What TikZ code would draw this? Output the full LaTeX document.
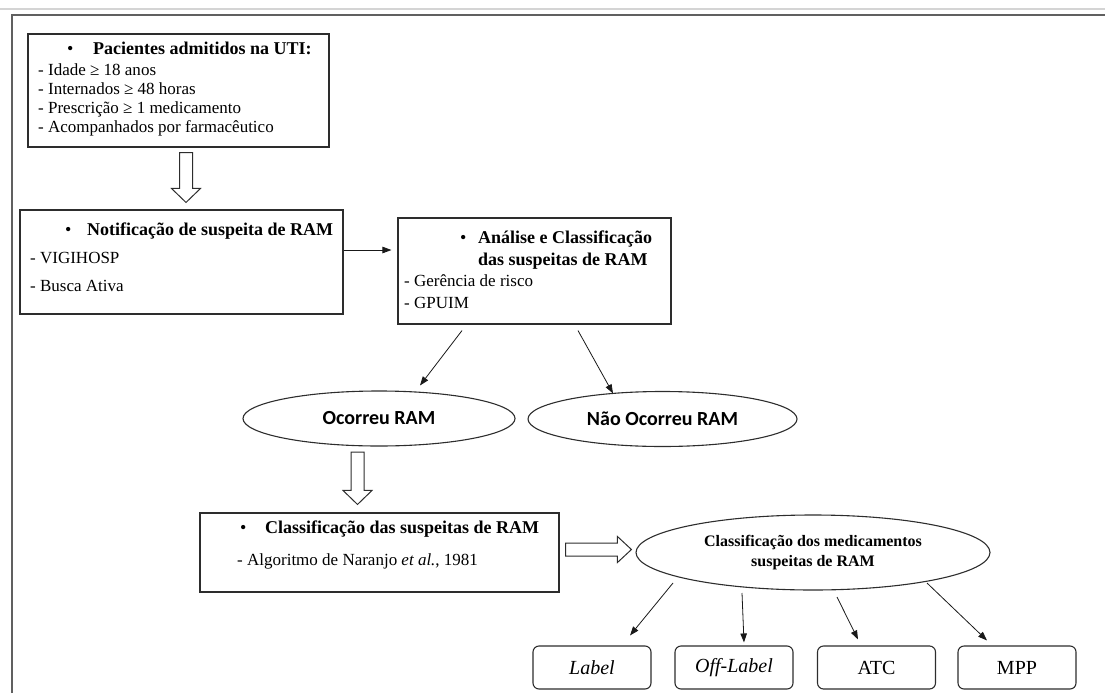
\documentclass[tikz,border=0pt]{standalone}
\usepackage{fontspec}
\setmainfont{Liberation Serif}
\newfontfamily\calibri{Carlito}
\usetikzlibrary{
    shapes.geometric,
    arrows.meta,
    calc
}
\definecolor{framegray}{RGB}{96, 96, 96}
\definecolor{rulegray}{RGB}{212, 212, 212}
\definecolor{edgegray}{RGB}{45, 45, 45}

% block arrows (hollow)
\newcommand{\hollowdown}[2]{%
    \draw[hollow] ($(#1)+(-6.5,0)$) -- ($(#1)+(6.5,0)$) -- ($(#2)+(6.5,-14)$)
        -- ($(#2)+(14.5,-14)$) -- (#2) -- ($(#2)+(-14.5,-14)$) -- ($(#2)+(-6.5,-14)$) -- cycle;}
\newcommand{\hollowright}[2]{%
    \draw[hollow] ($(#1)+(0,-6.5)$) -- ($(#2)+(-14,-6.5)$) -- ($(#2)+(-14,-13)$)
        -- (#2) -- ($(#2)+(-14,13)$) -- ($(#2)+(-14,6.5)$) -- ($(#1)+(0,6.5)$) -- cycle;}

\tikzset{
    box/.style={draw=edgegray, line width=1.1pt, rectangle, inner sep=0pt},
    oval/.style={draw=edgegray, line width=1.1pt, ellipse, inner sep=0pt},
    tagbox/.style={draw=edgegray, line width=1.1pt, rounded corners=6pt, minimum width=118pt,
        minimum height=43pt, inner sep=0pt, font=\fontsize{20}{24}\selectfont},
    txt/.style={anchor=base west, inner sep=0pt, font=\fontsize{17}{19}\selectfont},
    ttl/.style={txt, font=\fontsize{18}{20}\selectfont},
    arr/.style={draw=black!90, line width=0.8pt, -{Triangle[length=9pt,width=6.5pt]}},
    hollow/.style={draw=edgegray, line width=1pt, fill=white, line join=miter}
}

\begin{document}
\begin{tikzpicture}[x=1pt, y=-1pt]
    \useasboundingbox (0,0) rectangle (1105,693);

    % page frame
    \draw[rulegray, line width=1.5pt] (0,9) -- (1105,9);
    \draw[framegray, line width=2pt] (12,693) -- (12,15.5) -- (1105,15.5);

    % Pacientes admitidos
    \node[box, minimum width=301pt, minimum height=113pt] (pac) at (178.5,90.5) {};
    \node[ttl] (pac0) at (38,55) {\hspace*{29pt}\makebox[26pt][l]{\textbullet}\textbf{Pacientes admitidos na UTI:}};
    \node[txt] (pac1) at (38,75) {- Idade ≥ 18 anos};
    \node[txt] (pac2) at (38,94) {- Internados ≥ 48 horas};
    \node[txt] (pac3) at (38,113) {- Prescrição ≥ 1 medicamento};
    \node[txt] (pac4) at (38,132) {- Acompanhados por farmacêutico};

    % Notificacao
    \node[box, minimum width=323pt, minimum height=104pt] (notif) at (181.5,262) {};
    \node[ttl] (not0) at (30,235) {\hspace*{35pt}\makebox[22pt][l]{\textbullet}\textbf{Notificação de suspeita de RAM}};
    \node[txt] (not1) at (30,263) {- VIGIHOSP};
    \node[txt] (not2) at (30,291) {- Busca Ativa};

    % Analise
    \node[box, minimum width=273pt, minimum height=106pt] (anal) at (534.5,271) {};
    \node[ttl] (ana0) at (404,243) {\hspace*{56pt}\makebox[18pt][l]{\textbullet}\textbf{Análise e Classificação}};
    \node[ttl] (ana1) at (404,265) {\hspace*{74pt}\textbf{das suspeitas de RAM}};
    \node[txt] (ana2) at (404,286) {- Gerência de risco};
    \node[txt] (ana3) at (404,308) {- GPUIM};

    % Ocorreu / Nao ocorreu
    \node[oval, minimum width=272pt, minimum height=55pt, font=\calibri\bfseries\fontsize{20}{24}\selectfont] (ocor) at (379,418.5) {Ocorreu RAM};
    \node[oval, minimum width=269pt, minimum height=55pt, font=\calibri\bfseries\fontsize{20}{24}\selectfont] (naoocor) at (662.5,419) {Não Ocorreu RAM};

    % Classificacao das suspeitas
    \node[box, minimum width=359pt, minimum height=79pt] (classif) at (379.5,552.5) {};
    \node[ttl] (cla0) at (237,533) {\hspace*{3pt}\makebox[25pt][l]{\textbullet}\textbf{Classificação das suspeitas de RAM}};
    \node[txt] (cla1) at (237,565) {- Algoritmo de Naranjo \textit{et al.}, 1981};

    % Classificacao dos medicamentos
    \node[oval, minimum width=354pt, minimum height=75pt, align=center, font=\bfseries\fontsize{16}{20}\selectfont] (meds) at (813,552.5) {Classificação dos medicamentos\\suspeitas de RAM};

    % categories
    \node[tagbox] (label) at (592,667.5) {\textit{Label}};
    \node[tagbox] (offlabel) at (734,667.5) {\textit{Off-Label}};
    \node[tagbox] (atc) at (876.5,667.5) {ATC};
    \node[tagbox] (mpp) at (1017,667.5) {MPP};

    % block arrows
    \coordinate (a1top) at ([xshift=7.5pt,yshift=-5pt]pac.south);
    \coordinate (a1tip) at ([xshift=4.5pt,yshift=7pt]notif.north);
    \hollowdown{a1top}{a1tip}
    \coordinate (a2top) at ([xshift=-21.5pt,yshift=-5.5pt]ocor.south);
    \coordinate (a2tip) at ([xshift=-22pt,yshift=8pt]classif.north);
    \hollowdown{a2top}{a2tip}
    \coordinate (a3start) at ([xshift=6pt,yshift=3pt]classif.east);
    \coordinate (a3tip) at ([xshift=-4pt,yshift=3pt]meds.west);
    \hollowright{a3start}{a3tip}

    % arrows
    \draw[arr] ([yshift=12pt]notif.east) -- ([xshift=-6pt,yshift=21pt]anal.west);
    \draw[arr] ([xshift=-72.5pt,yshift=-6pt]anal.south) -- ([xshift=41pt,yshift=5pt]ocor.north);
    \draw[arr] ([xshift=43.5pt,yshift=-6pt]anal.south) -- ([xshift=-49.5pt,yshift=-2.5pt]naoocor.north);
    \draw[arr] ([xshift=-140pt,yshift=-30.5pt]meds.center) -- ([xshift=38pt,yshift=10pt]label.north);
    \draw[arr] ([xshift=-71pt,yshift=-40.5pt]meds.center) -- ([xshift=10pt,yshift=3pt]offlabel.north);
    \draw[arr] ([xshift=24pt,yshift=-44.5pt]meds.center) -- ([xshift=-18.5pt,yshift=6pt]atc.north);
    \draw[arr] ([xshift=114pt,yshift=-30.5pt]meds.center) -- ([xshift=-30pt,yshift=5pt]mpp.north);
\end{tikzpicture}
\end{document}
